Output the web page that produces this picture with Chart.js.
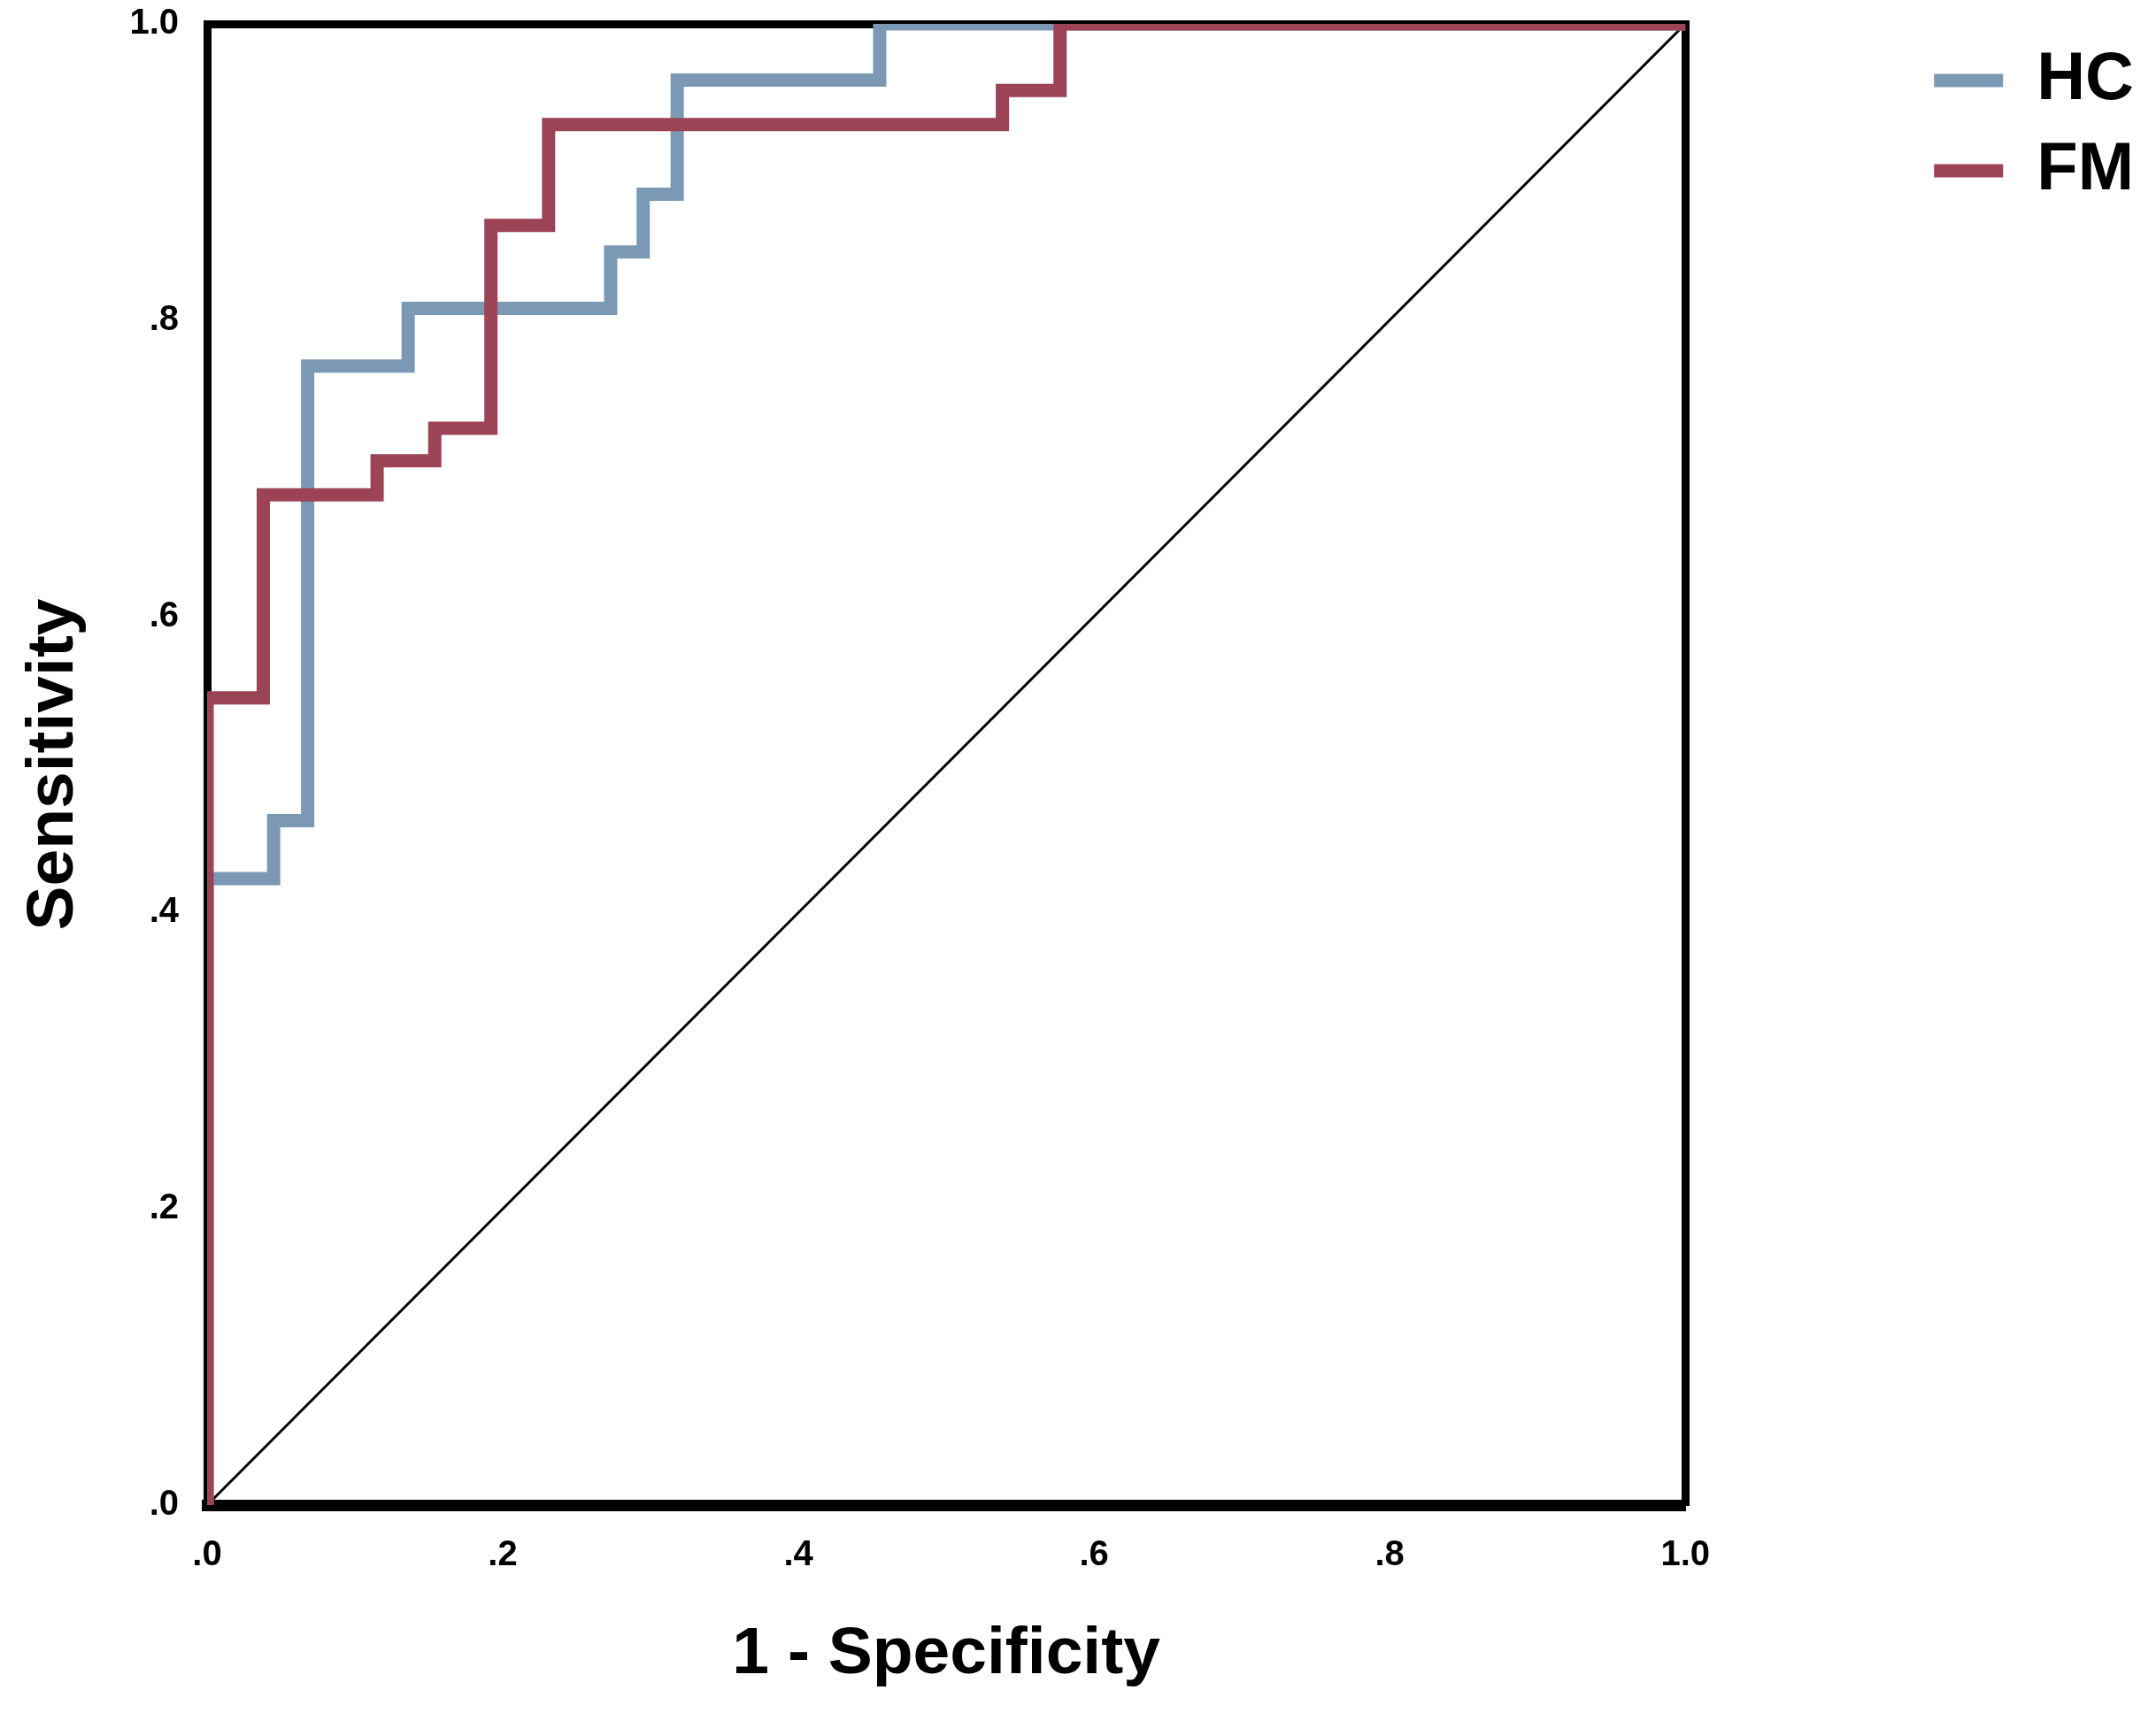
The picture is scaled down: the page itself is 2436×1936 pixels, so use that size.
<!DOCTYPE html>
<html>
<head>
<meta charset="utf-8">
<script src="https://cdn.jsdelivr.net/npm/chart.js@4.4.1/dist/chart.umd.min.js"></script>
<style>
  html, body { margin: 0; padding: 0; background: #fff; }
  #roc { display: block; }
</style>
</head>
<body>
<canvas id="roc" width="2436" height="1936"></canvas>
<script>
// ROC curves
var seriesNames = ["HC", "FM"];
var seriesColors = ["#7b99b4", "#9c4356"];

var hcX = [0, 0, 0.045, 0.045, 0.068, 0.068, 0.136, 0.136, 0.273, 0.273, 0.295, 0.295, 0.318, 0.318, 0.455, 0.455, 1];
var hcY = [0, 0.423, 0.423, 0.462, 0.462, 0.769, 0.769, 0.808, 0.808, 0.846, 0.846, 0.885, 0.885, 0.962, 0.962, 1, 1];

var fmX = [0, 0, 0.038, 0.038, 0.115, 0.115, 0.154, 0.154, 0.192, 0.192, 0.231, 0.231, 0.538, 0.538, 0.577, 0.577, 1];
var fmY = [0, 0.545, 0.545, 0.682, 0.682, 0.705, 0.705, 0.727, 0.727, 0.864, 0.864, 0.932, 0.932, 0.955, 0.955, 1, 1];

// reference diagonal
var refX = [0, 1];
var refY = [0, 1];

var tickLabels = [".0", ".2", ".4", ".6", ".8", "1.0"];

function toPoints(xs, ys){
    var pts = [];
    for (var i = 0; i < xs.length; i++) {
        pts.push({x: xs[i], y: ys[i]});
    }
    return pts;
}

Chart.defaults.font.family = "'Liberation Sans', Arial, sans-serif";
Chart.defaults.color = "#000";

var xTickFont = {size: 40, weight: "bold"};
// tiny lineHeight so the top label does not push the plot down
var yTickFont = {size: 40, weight: "bold", lineHeight: 0.05};
var titleFont = {size: 75, weight: "bold", lineHeight: 1};

var data = {
    "datasets": [
        {
            "label": seriesNames[0],
            "data": toPoints(hcX, hcY),
            "borderColor": seriesColors[0],
            "backgroundColor": seriesColors[0],
            "borderWidth": 15,
            "borderCapStyle": "square",
            "order": 2
        },
        {
            "label": seriesNames[1],
            "data": toPoints(fmX, fmY),
            "borderColor": seriesColors[1],
            "backgroundColor": seriesColors[1],
            "borderWidth": 15,
            "borderCapStyle": "square",
            "order": 1
        },
        {
            "label": "ref",
            "data": toPoints(refX, refY),
            "borderColor": "#000",
            "backgroundColor": "#000",
            "borderWidth": 3,
            "borderCapStyle": "butt",
            "order": 3
        }
    ]
};

data.datasets.forEach(function(ds){
    ds.xAxisID = "x";
    ds.yAxisID = "y";
    ds.pointRadius = 0;
    ds.tension = 0;
    ds.fill = false;
    ds.borderJoinStyle = "miter";
    ds.clip = 0;
});

var mychart = new Chart(document.getElementById("roc"), {
    type: "line",
    data: data,
    options: {
        responsive: false,
        animation: false,
        devicePixelRatio: 1,
        layout: {padding: {top: 27, left: 0, right: 15, bottom: 0}},
        plugins: {
            tooltip: {enabled: false},
            legend: {
                position: "right",
                align: "start",
                labels: {
                    usePointStyle: true,
                    pointStyle: "line",
                    pointStyleWidth: 78,
                    padding: 26,
                    color: "#000",
                    font: {size: 76, weight: "bold"},
                    filter: function(item){ return item.datasetIndex < 2; },
                    sort: function(a, b){ return a.datasetIndex - b.datasetIndex; }
                }
            }
        },
        scales: {
            x: {
                type: "linear",
                position: "bottom",
                min: 0,
                max: 1,
                z: 1,
                grid: {display: false},
                border: {display: true, color: "#000", width: 13},
                ticks: {
                    stepSize: 0.2,
                    autoSkip: false,
                    maxRotation: 0,
                    padding: 25,
                    color: "#000",
                    font: xTickFont,
                    callback: function(v, i){ return tickLabels[i]; }
                },
                title: {display: true, text: "1 - Specificity", color: "#000", font: titleFont, padding: {top: 0, bottom: 28}},
                afterFit: function(s){ s.height = 235; }
            },
            y: {
                type: "linear",
                position: "left",
                min: 0,
                max: 1,
                z: 1,
                grid: {display: false},
                border: {display: true, color: "#000", width: 9},
                ticks: {
                    stepSize: 0.2,
                    autoSkip: false,
                    padding: 24,
                    color: "#000",
                    font: yTickFont,
                    callback: function(v, i){ return tickLabels[i]; }
                },
                title: {display: true, text: "Sensitivity", color: "#000", font: titleFont, padding: {top: 24, bottom: 0}},
                afterFit: function(s){ s.width = 234; }
            },
            // empty axes only used for the top and right frame lines
            xTop: {
                type: "linear",
                position: "top",
                min: 0,
                max: 1,
                z: 1,
                grid: {display: false},
                border: {display: true, color: "#000", width: 9},
                ticks: {display: false},
                afterFit: function(s){ s.height = 0; }
            },
            yRight: {
                type: "linear",
                position: "right",
                min: 0,
                max: 1,
                z: 1,
                grid: {display: false},
                border: {display: true, color: "#000", width: 9},
                ticks: {display: false},
                afterFit: function(s){ s.width = 255; }
            }
        }
    }
});
</script>
</body>
</html>
